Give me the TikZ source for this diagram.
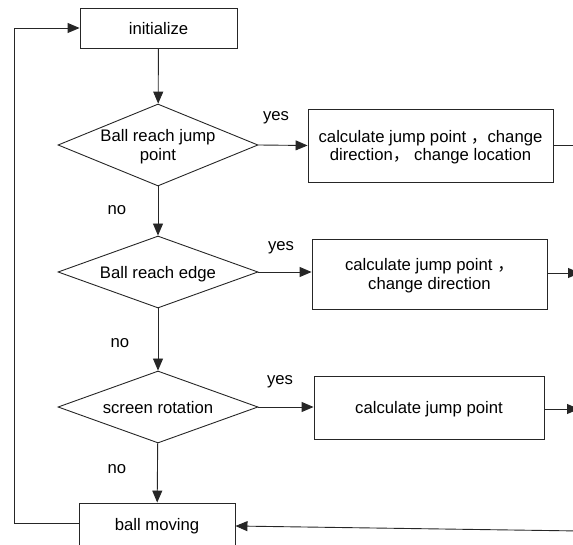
\documentclass[tikz,border=0pt]{standalone}
\usepackage{fontspec}
\setmainfont{Liberation Sans}
\newfontfamily\cjk{Noto Sans CJK SC}
\usetikzlibrary{shapes.geometric,arrows.meta}
\tikzset{
  x=1pt, y=-1pt,
  every node/.style={font=\fontsize{16.7}{18.5}\selectfont},
  procbox/.style={draw=black!85, line width=0.9pt, rectangle, inner sep=0pt, align=center, text depth=0pt},
  decision/.style={draw=black!85, line width=0.9pt, diamond, inner sep=0pt, aspect=2.4, align=center, text depth=0pt},
  conn/.style={draw=black!85, line width=0.9pt},
  arr/.style={conn, -{Triangle[length=12pt,width=10pt]}},
  lbl/.style={inner sep=0pt}
}
\begin{document}
\begin{tikzpicture}
\useasboundingbox (0,0) rectangle (573,545);
\clip (0,0) rectangle (573,545);
% left column
\node[procbox, minimum width=157pt, minimum height=40pt] (init) at (158.5,28) {initialize};
\node[decision, minimum width=200pt, minimum height=82pt] (d1) at (158,145) {Ball reach jump\\point};
\node[decision, minimum width=200pt, minimum height=72pt] (d2) at (158,272) {Ball reach edge};
\node[decision, minimum width=200pt, minimum height=72pt] (d3) at (158,407) {screen rotation};
\node[procbox, minimum width=156pt, minimum height=42pt] (bm) at (157,524) {ball moving};
% right column
\node[procbox, minimum width=245pt, minimum height=73pt] (b1) at (430.5,145.5) {calculate jump point {\cjk ，}change\\direction{\cjk ，}\ change location};
\node[procbox, minimum width=235pt, minimum height=70pt] (b2) at (429.5,274) {calculate jump point {\cjk ，}\\change direction};
\node[procbox, minimum width=230pt, minimum height=63pt] (b3) at (429,407.5) {calculate jump point};
% free ends
\coordinate (e1) at (580,145.5);
\coordinate (e2) at (580,273);
\coordinate (e3) at (579,409);
\coordinate (e4) at (580,531);
\coordinate (lb) at (14,523);
\coordinate (lt) at (14,28);
% connectors
\draw[arr] (init) -- (d1);
\draw[arr] (d1) -- (d2);
\draw[arr] (d2) -- (d3);
\draw[arr] (d3) -- (bm);
\draw[arr] (d1.east) -- (b1.west);
\draw[arr] (d2.east) -- (b2.west |- d2.east);
\draw[arr] (d3.east) -- (b3.west |- d3.east);
\draw[conn] (b1.east) -- (e1);
\draw[arr] (b2.east |- e2) -- (e2);
\draw[arr] (b3.east |- e3) -- (e3);
\draw[arr] (e4) -- ([yshift=-2pt]bm.east);
\draw[arr] (bm.west |- lb) -- (lb) -- (lt) -- (init.west);
% labels
\node[lbl] (y1) at (276,118) {yes};
\node[lbl] (n1) at (117,210) {no};
\node[lbl] (y2) at (281,248) {yes};
\node[lbl] (n2) at (120,343) {no};
\node[lbl] (y3) at (280,382) {yes};
\node[lbl] (n3) at (117,469) {no};
\end{tikzpicture}
\end{document}
